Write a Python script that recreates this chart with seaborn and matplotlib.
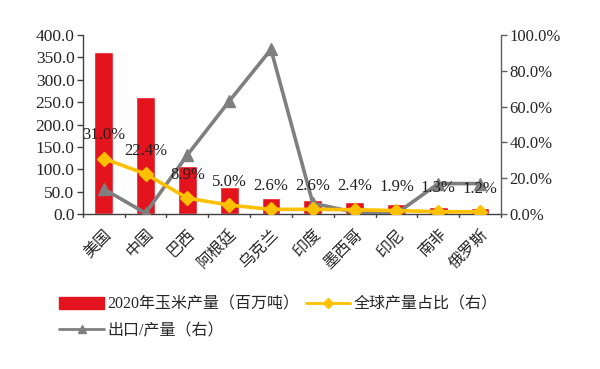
import matplotlib
matplotlib.use("Agg")
import matplotlib.pyplot as plt
import seaborn as sns
import numpy as np
import pandas as pd
from matplotlib.patches import Patch
from matplotlib.lines import Line2D
from matplotlib.ticker import FuncFormatter, MultipleLocator

countries = ["美国", "中国", "巴西", "阿根廷", "乌克兰", "印度", "墨西哥", "印尼", "南非", "俄罗斯"]
production = [362.0, 261.0, 107.0, 61.0, 35.0, 31.0, 27.0, 23.0, 15.5, 14.0]
global_share = [31.0, 22.4, 8.9, 5.0, 2.6, 2.6, 2.4, 1.9, 1.3, 1.2]
export_ratio = [14.0, 0.5, 33.0, 63.0, 92.0, 6.0, 1.0, 0.3, 17.0, 17.0]

bar_label = "2020年玉米产量（百万吨）"
share_label = "全球产量占比（右）"
export_label = "出口/产量（右）"

sns.set_theme(style="white")
plt.rcParams["font.family"] = ["Liberation Serif", "Noto Sans CJK SC"]

RED = "#E3141E"
YEL = "#FFC000"
GRY = "#7F7F7F"

fig = plt.figure(figsize=(6.0, 3.69), dpi=100)
ax = fig.add_axes([0.138, 0.42, 0.697, 0.485])

df = pd.DataFrame({"country": countries, "prod": production})
sns.barplot(data=df, x="country", y="prod", color=RED, saturation=1, width=0.45, ax=ax)
ax.set_xlim(-0.5, len(countries) - 0.5)
ax.set_ylim(0, 400)
ax.yaxis.set_major_locator(MultipleLocator(50))
ax.yaxis.set_major_formatter(FuncFormatter(lambda v, p: f"{v:.1f}"))
ax.set_xlabel("")
ax.set_ylabel("")
for s in ["top", "right"]:
    ax.spines[s].set_visible(False)
for s in ["left", "bottom"]:
    ax.spines[s].set_color("#404040")
    ax.spines[s].set_linewidth(1.0)
ax.tick_params(axis="y", left=True, length=4, width=1, color="#404040", labelsize=12.5, pad=2)
ax.set_xticks(np.arange(len(countries)))
ax.set_xticklabels(countries, rotation=45, ha="right", rotation_mode="anchor", fontsize=11.5)
ax.tick_params(axis="x", bottom=False, pad=3)
for b in np.arange(-0.5, len(countries) + 0.5, 1):
    ax.plot([b, b], [0, -6], color="#404040", lw=1, clip_on=False)

ax2 = ax.twinx()
x = np.arange(len(countries))
ax2.plot(x, export_ratio, color=GRY, lw=2.6, marker="^", markersize=9, zorder=3)
ax2.plot(x, global_share, color=YEL, lw=2.6, marker="D", markersize=7.5, zorder=4)
ax2.set_ylim(0, 100)
ax2.yaxis.set_major_locator(MultipleLocator(20))
ax2.yaxis.set_major_formatter(FuncFormatter(lambda v, p: f"{v:.1f}%"))
for s in ["top", "left", "bottom"]:
    ax2.spines[s].set_visible(False)
ax2.spines["right"].set_color("#606060")
ax2.spines["right"].set_linewidth(1.0)
ax2.tick_params(axis="y", right=True, length=4, width=1, color="#606060", labelsize=12, pad=2)
ax2.grid(False)
ax.grid(False)

for xi, v in zip(x, global_share):
    ax2.annotate(f"{v:.1f}%", (xi, v), xytext=(0, 11), textcoords="offset points",
                 ha="center", va="bottom", fontsize=12, color="#202020")

handles = [
    Patch(facecolor=RED, edgecolor=RED),
    Line2D([0], [0], color=GRY, lw=2, marker="^", markersize=6),
    Line2D([0], [0], color=YEL, lw=2, marker="D", markersize=5),
]
labels = [bar_label, export_label, share_label]
fig.legend(handles, labels, ncol=2, loc="upper left", bbox_to_anchor=(0.075, 0.235),
           frameon=False, fontsize=11.5, handlelength=2.8, handletextpad=0.2,
           columnspacing=0.4, labelspacing=0.65)

fig.savefig("out.png", dpi=100, facecolor="white")
